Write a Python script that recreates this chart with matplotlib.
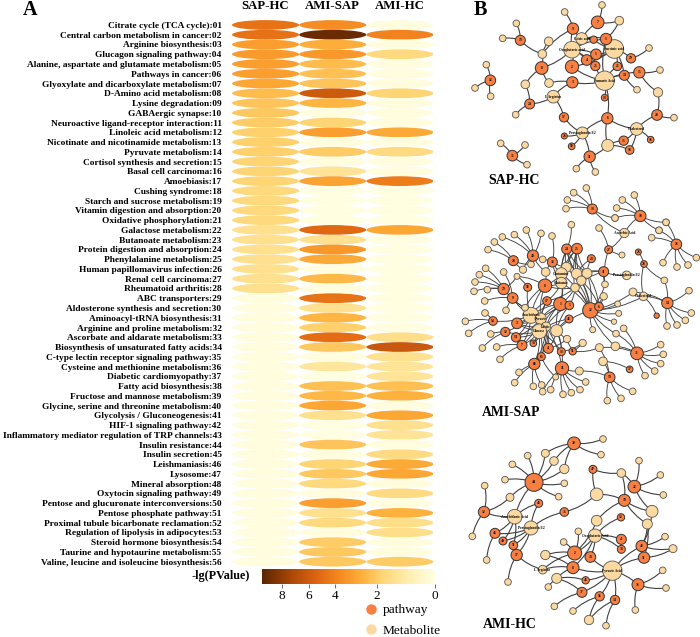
import numpy as np
import matplotlib
matplotlib.use("Agg")
import matplotlib.pyplot as plt
from matplotlib.colors import LinearSegmentedColormap, FuncNorm
from matplotlib.patches import Ellipse, Circle, PathPatch
from matplotlib.path import Path
from matplotlib.lines import Line2D
from matplotlib.cm import ScalarMappable

plt.rcParams['font.family'] = ['Liberation Serif', 'DejaVu Serif']

pathways = ["Citrate cycle (TCA cycle):01","Central carbon metabolism in cancer:02","Arginine biosynthesis:03",
"Glucagon signaling pathway:04","Alanine, aspartate and glutamate metabolism:05","Pathways in cancer:06",
"Glyoxylate and dicarboxylate metabolism:07","D-Amino acid metabolism:08","Lysine degradation:09","GABAergic synapse:10",
"Neuroactive ligand-receptor interaction:11","Linoleic acid metabolism:12","Nicotinate and nicotinamide metabolism:13",
"Pyruvate metabolism:14","Cortisol synthesis and secretion:15","Basal cell carcinoma:16","Amoebiasis:17","Cushing syndrome:18",
"Starch and sucrose metabolism:19","Vitamin digestion and absorption:20","Oxidative phosphorylation:21","Galactose metabolism:22",
"Butanoate metabolism:23","Protein digestion and absorption:24","Phenylalanine metabolism:25","Human papillomavirus infection:26",
"Renal cell carcinoma:27","Rheumatoid arthritis:28","ABC transporters:29","Aldosterone synthesis and secretion:30",
"Aminoacyl-tRNA biosynthesis:31","Arginine and proline metabolism:32","Ascorbate and aldarate metabolism:33",
"Biosynthesis of unsaturated fatty acids:34","C-type lectin receptor signaling pathway:35","Cysteine and methionine metabolism:36",
"Diabetic cardiomyopathy:37","Fatty acid biosynthesis:38","Fructose and mannose metabolism:39","Glycine, serine and threonine metabolism:40",
"Glycolysis / Gluconeogenesis:41","HIF-1 signaling pathway:42","Inflammatory mediator regulation of TRP channels:43",
"Insulin resistance:44","Insulin secretion:45","Leishmaniasis:46","Lysosome:47","Mineral absorption:48","Oxytocin signaling pathway:49",
"Pentose and glucuronate interconversions:50","Pentose phosphate pathway:51","Proximal tubule bicarbonate reclamation:52",
"Regulation of lipolysis in adipocytes:53","Steroid hormone biosynthesis:54","Taurine and hypotaurine metabolism:55",
"Valine, leucine and isoleucine biosynthesis:56"]
groups = ["SAP-HC", "AMI-SAP", "AMI-HC"]

sap_hc = [4.7,4.8,3.2,3.3,3.2,3.2,3.0,2.4,2.2,2.1,2.0,1.9,1.9,1.9,1.8,1.8,1.8,1.7,1.7,1.7,1.7,1.4,1.4,1.4,1.4,1.4,1.4,1.4,
          .1,.1,.1,.1,.1,.1,.1,.1,.1,.1,.1,.1,.1,.1,.1,.1,.1,.1,.1,.1,.1,.1,.1,.1,.1,.1,.1,.1]
ami_sap = [3.7,9.0,2.8,3.4,2.4,2.3,2.2,6.0,2.6,.1,1.8,3.2,.1,2.0,.1,1.3,3.1,.05,.05,.05,.05,5.2,1.4,3.4,2.9,.1,2.5,.1,
           4.7,1.4,2.6,1.9,5.0,2.1,.1,1.2,.05,2.3,2.5,3.0,1.4,.05,.05,2.2,.1,1.8,2.1,1.7,.1,3.2,1.4,1.7,.1,2.0,2.1,2.1]
ami_hc = [.1,4.0,.1,1.7,.1,.1,.1,1.8,.1,.1,.1,2.9,.1,1.6,.1,.1,4.3,.05,.05,.05,.05,3.0,.05,.05,.05,.05,.05,.05,
          .05,.05,.05,.05,1.5,6.2,1.4,1.3,1.3,2.3,2.7,.1,3.0,1.4,1.3,.1,1.6,2.9,3.0,.1,1.6,.1,2.7,1.5,1.5,.1,.1,2.0]
cbar_ticks = [8, 6, 4, 2, 0]

# ---- Networks: layout units of each panel; pathway = (x, y, size, label), metabolite = (x, y, size, label)
net1_p = {"a":(369,86,17,"9"),"b":(443,67,19,"7"),"c":(468,117,17,"1"),"d":(431,119,11,""),"e":(438,163,16,"5"),"f":(410,180,16,"4"),
"g":(436,198,14,"25"),"h":(366,200,20,"2"),"i":(275,204,19,"8"),"j":(367,247,17,"3"),"k":(211,121,15,"19"),"l":(543,175,14,"29"),
"m":(502,199,13,"21"),"n":(523,226,15,"14"),"o":(568,217,17,"15"),"p":(464,293,10,"13"),"q":(239,312,15,"24"),"r":(342,352,14,"17"),
"s":(472,355,17,"6"),"t":(621,345,16,"28"),"u":(343,408,9,"26"),"v":(365,439,10,"50"),"w":(419,470,17,"11"),"x":(521,422,14,"15"),
"y":(539,450,13,"18"),"z":(602,419,10,"16"),"aa":(121,241,16,"12"),"ab":(187,467,16,"31")}
net1_m = {"M1":(395,116,18,"Citric acid"),"M2":(366,149,25,"Oxoglutaric acid"),"M3":(493,147,28,"Succinic acid"),"M4":(464,242,29,"Fumaric Acid"),
"M5":(310,290,19,"L-Arginine"),"M6":(397,399,18,"Prostaglandin E2"),"M7":(560,387,19,"Cholesterol"),"M8":(473,436,18,""),
"M9":(508,62,13,""),"M10":(277,162,13,""),"M11":(226,253,13,""),"M12":(297,249,13,""),"M13":(624,277,14,""),"M14":(296,124,13,"")}
net1_links = {"a":"M1 M10 M2","b":"M9 M1","c":"M1 M2 M3 M4 M9","d":"M1 M3","e":"M2 M3","f":"M2 M3","g":"M2 M4","h":"M2 M4 M3",
"i":"M10 M11 M12 M2","j":"M4 M5 M12","k":"M10","l":"M3","m":"M3 M4","n":"M3 M4","o":"M4 M13","p":"M4","q":"M11 M5","r":"M5 M6",
"s":"M4 M6 M7 M8","t":"M13 M7","u":"M6","v":"M6","w":"M6 M8","x":"M7 M8","y":"M7 M8","z":"M7","M14":"M10"}
net1_leaves = {"a":[(344,36)],"b":[(456,15)],"k":[(199,70),(158,115)],"l":[(597,144)],"n":[(561,269)],"o":[(630,210)],"q":[(197,344)],
"t":[(672,353)],"w":[(379,506),(436,516)],"aa":[(109,194),(75,264),(122,289)],"ab":[(152,430),(225,435),(231,494)]}

net2_p = {"a":(427,27,15,"13"),"b":(571,48,17,"18"),"c":(679,133,16,"16"),"d":(476,149,12,"27"),"e":(565,156,9,"26"),"f":(582,192,10,"28"),
"g":(350,147,15,"24"),"h":(381,146,16,"25"),"i":(424,176,12,"23"),"j":(249,167,17,"40"),"k":(307,186,15,"32"),"l":(190,182,15,"28"),
"m":(461,215,15,"11"),"n":(285,257,20,"8"),"o":(233,262,12,"50"),"p":(161,267,17,"29"),"q":(188,294,16,"9"),"r":(291,303,13,"17"),
"s":(331,312,20,"1"),"t":(358,316,13,"5"),"u":(421,331,23,"22"),"v":(447,320,13,"6"),"w":(652,309,17,"14"),"x":(620,347,8,""),
"y":(129,363,13,"54"),"z":(201,370,16,"3"),"aa":(357,357,12,"45"),"ab":(166,396,14,"12"),"ac":(198,412,14,"14"),"ad":(216,436,15,"7"),
"ae":(250,430,10,"33"),"af":(295,445,15,"4"),"ag":(334,455,12,"13"),"ah":(368,454,11,"51"),"ai":(274,470,12,"63"),"aj":(253,492,17,"60"),
"ak":(336,505,20,"11"),"al":(561,460,19,"31"),"am":(539,508,10,"37"),"an":(479,532,16,"19")}
net2_m = {"t1":(349,202,15,""),"t2":(380,221,16,""),"t3":(411,220,15,""),"t4":(394,242,14,""),"t5":(334,221,18,"Glutamine"),"t6":(334,249,17,"Glutamic"),
"t7":(287,216,13,""),"t8":(375,263,13,""),"b1":(243,346,24,"Arachidonic"),"b2":(272,356,17,"Pyruvic"),"b3":(288,380,14,"Lactic"),"b4":(268,394,22,"Glucose"),
"b5":(320,392,18,""),"b6":(225,323,10,""),"s1":(219,209,11,""),"s2":(201,229,9,""),"o1":(523,99,14,"Ascorbic Acid"),"o2":(530,226,13,"Prostaglandin E2"),
"o3":(549,276,12,""),"o4":(580,289,13,"Cholesterol"),"o5":(465,253,10,""),"o6":(461,289,11,""),"o7":(516,165,9,""),"o8":(643,241,10,""),
"o9":(398,429,11,""),"o10":(448,443,12,""),"o11":(496,439,13,""),"o12":(459,484,13,""),"o13":(388,513,12,""),"o14":(351,417,11,""),
"o15":(428,389,9,""),"o16":(498,401,10,""),"o17":(521,385,10,""),"o18":(492,365,8,""),"o19":(503,312,9,""),"o20":(506,340,9,""),"o21":(317,531,9,"")}
net2_links = {"a":"o1","b":"o1","g":"t1 t2 t3 t4 t5 t6","h":"t1 t2 t3 t4 t5 t8","i":"t2 t3","j":"t7 s1","k":"t1 t5 t6 t7","l":"s1",
"m":"t2 t3 t8 o2 o5","n":"t5 t6 t7 t8 b1 b2 b6 s2","o":"b1 s2","p":"s2 b6","q":"b1 b6","r":"t6 t8 b1 b2 b4","s":"t5 t6 t8 b1 b2 b3 b4 b5",
"t":"b2 b3 b5 t8","u":"t1 t2 t3 t4 t5 t6 t8 o5 o6 o3 o4 b5 o19 o20 o15 o16 o18 o11","v":"t3 t4 o6","d":"o1 o5 o7","f":"o4 o8 e",
"w":"o4 o3 o8","x":"o4","y":"b1","z":"b1 b2 b3 b4","aa":"b4 b5","ab":"b1 b4","ac":"b1 b4 b2","ad":"b1 b2 b4","ae":"b2 b3 b4",
"af":"b2 b3 b4 b5 o14","ag":"b4 b5 o9","ah":"b5 o9 o10","ai":"b4 b3 o21","aj":"b4 b3","ak":"b5 b3 o13 o21","al":"o11 o16 o17 o10",
"am":"o12","an":"o12 o13 o10"}
net2_leaves = {"a":[(352,0),(348,26),(409,-36),(371,-22),(495,54)],"b":[(495,54),(517,0),(553,-15),(648,67),(627,91),(500,24)],
"c":[(627,91),(605,113),(639,188),(681,201),(714,195),(739,173),(648,67)],"w":[(717,272),(724,339),(706,361),(681,375),(651,378)],
"g":[(364,74)],"d":[(447,84)],"j":[(229,90),(193,104),(273,100),(157,111)],"k":[(306,108),(278,178)],"l":[(133,126),(114,149),(243,193)],
"p":[(107,205),(88,224),(75,246),(72,274),(112,269)],"q":[(161,216),(104,303),(168,331)],"y":[(105,339),(46,364),(56,400)],
"ab":[(122,402),(97,444)],"ad":[(140,441),(150,478)],"aj":[(207,517),(194,548),(250,559),(275,555)],
"ak":[(278,575),(302,569),(339,583),(364,578),(390,569),(407,546)],"al":[(632,434),(640,463),(632,491),(614,513),(585,527)],
"an":[(548,574),(513,595),(472,602)]}

net3_p = {"a":(372,70,19,"30"),"b":(252,187,27,"44"),"c":(429,148,12,"47"),"d":(553,200,19,"22"),"e":(523,241,18,"39"),"f":(266,250,12,"46"),
"g":(102,276,17,"12"),"h":(343,276,13,"35"),"i":(513,292,11,"12"),"j":(135,340,15,"45"),"k":(159,363,12,"49"),"l":(190,376,13,"51"),
"m":(514,358,15,"4"),"n":(514,388,12,"33"),"o":(575,378,17,"41"),"p":(200,405,17,"17"),"q":(374,399,21,"2"),"r":(421,411,16,"33"),
"s":(582,413,17,"51"),"t":(369,443,18,"8"),"u":(407,481,11,"45"),"v":(396,517,15,"37"),"w":(449,529,14,"56"),"x":(564,494,18,"36"),"y":(495,540,14,"14")}
net3_m = {"A":(194,290,22,"Arachidonic Acid"),"B":(243,324,21,"Prostaglandin E2"),"C":(435,347,20,"Oxoglutaric Acid"),"D":(487,452,29,"Pyruvic Acid"),
"E":(278,449,13,"L-Arginine"),"F":(320,475,15,""),"G":(286,405,14,""),"H":(440,223,19,""),"I":(606,274,18,""),"J":(592,312,15,""),"K":(440,302,16,""),
"L":(514,159,13,""),"N":(417,600,14,""),"O":(286,100,12,""),"P":(312,123,13,""),"Q":(343,147,14,""),"R":(180,232,12,""),"S":(669,386,12,"")}
net3_links = {"a":"O P Q","b":"O P Q A","c":"H L","d":"L I","e":"H L I J K","f":"A B","g":"R A","h":"B H","i":"C","j":"A B","k":"A B","l":"A B",
"m":"C","n":"C","o":"D J I S","p":"B E","q":"C G E K","r":"C D","s":"D J S","t":"E F G D C","u":"D F","v":"D F","w":"D N","x":"D","y":"D N"}
net3_leaves = {"a":[(459,57),(453,104)],"b":[(233,107),(187,133),(165,179),(343,190),(326,230),(180,232)],"d":[(567,122),(631,165),(640,225)],
"g":[(104,197),(67,349)],"j":[(110,420)],"p":[(174,486)],"q":[(385,334),(341,366)],"o":[(645,350)],"F":[(295,501)],"v":[(313,559)],"w":[(369,573)],
"y":[(468,617)],"x":[(638,451),(648,504),(556,570)]}

# ---- figure
W, H = 700, 637
fig = plt.figure(figsize=(W/100, H/100), dpi=100)
def axes_px(x0, y0, x1, y1, **kw):
    return fig.add_axes([x0/W, 1-y1/H, (x1-x0)/W, (y1-y0)/H], **kw)

val_pts = [0, 2, 4, 6, 8, 9.5]
pos_pts = [0, .335, .578, .731, .884, 1]
norm = FuncNorm((lambda v: np.interp(v, val_pts, pos_pts), lambda p: np.interp(p, pos_pts, val_pts)), vmin=0, vmax=9.5)
cmap = LinearSegmentedColormap.from_list("heat", [(0,"#ffffe3"),(.15,"#ffeeb0"),(.30,"#fed676"),(.42,"#feb13c"),(.55,"#f58a20"),
                                                  (.68,"#df6512"),(.82,"#b04a08"),(1,"#5a2400")])

ax = axes_px(232, 20.1, 433.5, 566.6)
ax.set_xlim(-.5, 2.5); ax.set_ylim(55.5, -.5)
for c, col in enumerate([sap_hc, ami_sap, ami_hc]):
    for r, v in enumerate(col):
        ax.add_patch(Ellipse((c, r), 1.0, 1.0, fc=cmap(norm(v)), ec="none"))
for s in ax.spines.values():
    s.set_visible(False)
ax.set_yticks(range(len(pathways)), pathways, fontsize=6.75, fontweight="bold")
ax.tick_params(axis="y", length=0, pad=7.5)
ax.xaxis.tick_top()
ax.set_xticks(range(3), groups, fontsize=9.2, fontweight="bold")
ax.tick_params(axis="x", length=0, pad=6)

cax = axes_px(262, 569, 435, 584)
cb = fig.colorbar(ScalarMappable(norm=norm, cmap=cmap), cax=cax, orientation="horizontal")
cax.invert_xaxis()
cb.set_ticks(cbar_ticks)
cb.outline.set_visible(False)
cax.tick_params(labelsize=9.5, length=3, width=.6, pad=1.5, color="#555")
fig.text(250/W, 1-575.5/H, "-lg(PValue)", ha="right", va="center", fontsize=8.7, fontweight="bold")

fig.text(23/W, 1-15/H, "A", fontsize=14.5, fontweight="bold", va="baseline")
fig.text(474/W, 1-15/H, "B", fontsize=14.5, fontweight="bold", va="baseline")

PC, MC, EC = "#f77f42", "#fbd9a0", "#3f3f3f"
def network(box, origin, P, M, links, leaves, lw=.8):
    a = axes_px(*box)
    a.set_xlim((box[0]-origin[0])*3, (box[2]-origin[0])*3)
    a.set_ylim((box[3]-origin[1])*3, (box[1]-origin[1])*3)
    a.axis("off"); a.patch.set_alpha(0)
    nodes = {**P, **M}
    def edge(p0, p1):
        (x0, y0), (x1, y1) = p0, p1
        cx = (x0+x1)/2 - .13*(y1-y0); cy = (y0+y1)/2 + .13*(x1-x0)
        a.add_patch(PathPatch(Path([p0, (cx, cy), p1], [Path.MOVETO, Path.CURVE3, Path.CURVE3]), fc="none", ec=EC, lw=lw, zorder=1))
    for k, t in links.items():
        for o in t.split():
            edge(nodes[k][:2], nodes[o][:2])
    for k, pts in leaves.items():
        for q in pts:
            edge(nodes[k][:2], q)
            a.add_patch(Circle(q, 10, fc=MC, ec="#555", lw=.6, zorder=2))
    for k, (x, y, r, t) in M.items():
        a.add_patch(Circle((x, y), r, fc=MC, ec="#555", lw=.6, zorder=2))
        if t:
            a.text(x, y, t, fontsize=2.6, ha="center", va="center", zorder=4, fontweight="bold")
    for k, (x, y, r, t) in P.items():
        a.add_patch(Circle((x, y), r, fc=PC, ec="#333", lw=.7, zorder=3))
        if t:
            a.text(x, y, t, fontsize=2.6, ha="center", va="center", zorder=4, fontweight="bold")

network((450, 0, 700, 176), (450, 0), net1_p, net1_m, net1_links, net1_leaves)
network((450, 180, 700, 405), (450, 200), net2_p, net2_m, net2_links, net2_leaves, lw=.65)
network((450, 428, 700, 637), (450, 420), net3_p, net3_m, net3_links, net3_leaves)

fig.text(514/W, 1-180/H, "SAP-HC", fontsize=10, fontweight="bold", ha="center", va="center")
fig.text(511/W, 1-412/H, "AMI-SAP", fontsize=9.8, fontweight="bold", ha="center", va="center")
fig.text(510/W, 1-625/H, "AMI-HC", fontsize=10, fontweight="bold", ha="center", va="center")

handles = [Line2D([], [], ls="", marker="o", ms=7.5, mfc=PC, mec="none"), Line2D([], [], ls="", marker="o", ms=7.5, mfc=MC, mec="none")]
fig.legend(handles, ["pathway", "Metabolite"], loc="upper left", bbox_to_anchor=(360/W, 1-604/H), frameon=False, fontsize=9.6,
           labelspacing=.6, handletextpad=.1, borderpad=0, borderaxespad=0, handlelength=1.6)

fig.savefig("out.png", dpi=100)
